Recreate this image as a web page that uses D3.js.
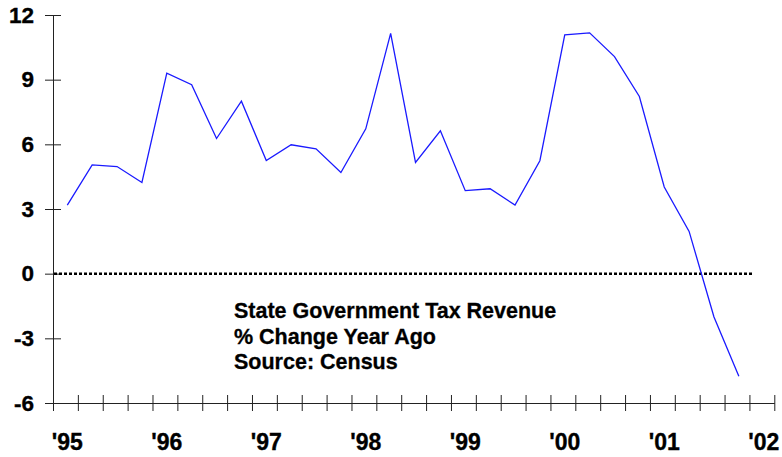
<!DOCTYPE html>
<html>
<head>
<meta charset="utf-8">
<script src="https://cdn.jsdelivr.net/npm/d3@7"></script>
<style>
  html, body { margin: 0; padding: 0; background: #fff; }
  svg { display: block; }
</style>
</head>
<body>
<svg id="chart" width="782" height="457"></svg>
<script>
// Quarterly data, 1995Q1 .. 2001Q4 (% change year ago)
const quarters = [
  "1995Q1","1995Q2","1995Q3","1995Q4",
  "1996Q1","1996Q2","1996Q3","1996Q4",
  "1997Q1","1997Q2","1997Q3","1997Q4",
  "1998Q1","1998Q2","1998Q3","1998Q4",
  "1999Q1","1999Q2","1999Q3","1999Q4",
  "2000Q1","2000Q2","2000Q3","2000Q4",
  "2001Q1","2001Q2","2001Q3","2001Q4"
];
const values = [
  3.18, 5.05, 4.97, 4.23,
  9.30, 8.77, 6.27, 8.00,
  5.25, 5.98, 5.79, 4.69,
  6.72, 11.15, 5.16, 6.63,
  3.85, 3.94, 3.18, 5.24,
  11.08, 11.17, 10.07, 8.22,
  4.02, 1.96, -2.01, -4.76
];
const yTicks = [-6, -3, 0, 3, 6, 9, 12];
const yearLabels = ["'95", "'96", "'97", "'98", "'99", "'00", "'01", "'02"];
const annotation = ["State Government Tax Revenue", "% Change Year Ago", "Source: Census"];

(function () {
const svg = d3.select("#chart");
const mLeft = 53, mRight = 774.3, mTop = 15, mBottom = 403;
const nTicks = 29; // quarterly tick intervals on x axis
const off = 0.575;  // points sit inside the quarter

const x = d3.scaleLinear().domain([-off, nTicks - off]).range([mLeft, mRight]);
const y = d3.scaleLinear().domain([-6, 12]).range([mBottom, mTop]);

const font = "'Liberation Sans', Arial, Helvetica, sans-serif";

// Y axis
const yAxis = d3.axisLeft(y).tickValues(yTicks).tickSize(0).tickPadding(19)
  .tickFormat(d => d);
const gy = svg.append("g").attr("transform", `translate(${mLeft},0)`).call(yAxis);
gy.select(".domain").attr("stroke", "#222").attr("stroke-width", 1);
gy.selectAll("text").attr("font-family", font).attr("font-size", 22.5)
  .attr("font-weight", "bold").attr("fill", "#000")
  .attr("stroke", "#000").attr("stroke-width", 0.35);
gy.selectAll(".tick").append("line")
  .attr("x1", -8).attr("x2", 8).attr("stroke", "#222").attr("stroke-width", 1);

// X axis (quarter ticks crossing the axis)
const xTickVals = d3.range(nTicks + 1).map(k => k - off);
const xAxis = d3.axisBottom(x).tickValues(xTickVals).tickSize(0).tickFormat("");
const gx = svg.append("g").attr("transform", `translate(0,${mBottom})`).call(xAxis);
gx.select(".domain").attr("stroke", "#222").attr("stroke-width", 1);
gx.selectAll(".tick").append("line")
  .attr("y1", -8).attr("y2", 8).attr("stroke", "#222").attr("stroke-width", 1);

// Year labels
svg.append("g").selectAll("text").data(yearLabels).join("text")
  .attr("x", (d, i) => x(i * 4))
  .attr("y", 449.5)
  .attr("text-anchor", "middle")
  .attr("font-family", font).attr("font-size", 23).attr("font-weight", "bold")
  .attr("fill", "#000").attr("stroke", "#000").attr("stroke-width", 0.35)
  .text(d => d);

// Zero line (dotted)
svg.append("line")
  .attr("x1", mLeft + 1).attr("x2", 753)
  .attr("y1", y(0)).attr("y2", y(0))
  .attr("stroke", "#000").attr("stroke-width", 2.5)
  .attr("stroke-dasharray", "3,2");

// Data line
const line = d3.line().x((d, i) => x(i)).y(d => y(d));
svg.append("path").datum(values)
  .attr("d", line)
  .attr("fill", "none")
  .attr("stroke", "#1a1aff")
  .attr("stroke-width", 1.3);

// Annotation
svg.append("g").selectAll("text").data(annotation).join("text")
  .attr("x", 234)
  .attr("y", (d, i) => 318 + i * 25.5)
  .attr("font-family", font).attr("font-size", 21.5).attr("font-weight", "bold")
  .attr("fill", "#000").attr("stroke", "#000").attr("stroke-width", 0.3)
  .text(d => d);
})();
</script>
</body>
</html>
